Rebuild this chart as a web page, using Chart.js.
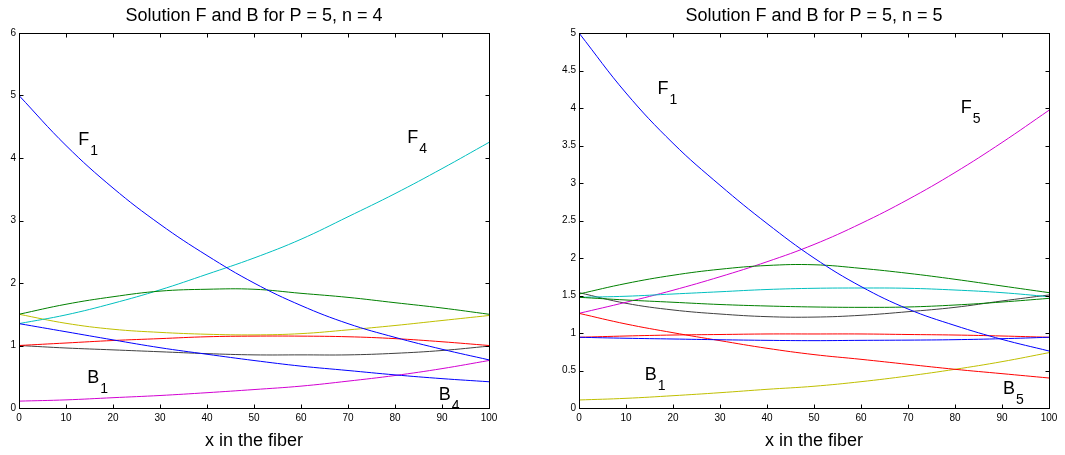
<!DOCTYPE html>
<html>
<head>
<meta charset="utf-8">
<title>Solution F and B</title>
<script src="https://cdn.jsdelivr.net/npm/chart.js@4.4.1/dist/chart.umd.min.js"></script>
<style>
  html, body { margin: 0; padding: 0; background: #fff; }
  body { width: 1065px; height: 455px; position: relative; overflow: hidden; }
  canvas { position: absolute; top: 0; }
  #left { left: 0; }
  #right { left: 532px; }
</style>
</head>
<body>
<canvas id="left" width="532" height="455"></canvas>
<canvas id="right" width="533" height="455"></canvas>
<script>
// x positions along the fiber (both plots)
var xs = [0, 10, 20, 30, 40, 50, 60, 70, 80, 90, 100];

// left plot, n = 4
var n4_F1      = [5.00, 4.20, 3.52, 2.94, 2.44, 2.00, 1.64, 1.35, 1.13, 0.94, 0.77];
var n4_F4      = [1.35, 1.49, 1.675, 1.89, 2.14, 2.40, 2.70, 3.06, 3.43, 3.83, 4.25];
var n4_green   = [1.50, 1.66, 1.78, 1.87, 1.90, 1.90, 1.835, 1.77, 1.685, 1.60, 1.50];
var n4_yellow  = [1.50, 1.355, 1.26, 1.21, 1.18, 1.17, 1.19, 1.25, 1.32, 1.40, 1.48];
var n4_red     = [1.00, 1.04, 1.08, 1.11, 1.14, 1.15, 1.15, 1.14, 1.11, 1.06, 1.00];
var n4_black   = [1.00, 0.96, 0.93, 0.90, 0.87, 0.85, 0.85, 0.85, 0.875, 0.92, 0.99];
var n4_blue2   = [1.35, 1.22, 1.09, 0.965, 0.86, 0.76, 0.67, 0.60, 0.53, 0.47, 0.42];
var n4_magenta = [0.11, 0.13, 0.165, 0.20, 0.245, 0.295, 0.35, 0.43, 0.52, 0.63, 0.76];

// right plot, n = 5
var n5_F1      = [5.00, 4.20, 3.53, 2.97, 2.46, 2.00, 1.62, 1.32, 1.10, 0.915, 0.76];
var n5_F5      = [1.262, 1.41, 1.57, 1.75, 1.95, 2.18, 2.46, 2.78, 3.14, 3.54, 3.97];
var n5_green1  = [1.52, 1.66, 1.77, 1.85, 1.90, 1.91, 1.862, 1.796, 1.716, 1.627, 1.538];
var n5_cyan    = [1.476, 1.49, 1.52, 1.55, 1.58, 1.596, 1.60, 1.596, 1.573, 1.538, 1.484];
var n5_green2  = [1.476, 1.44, 1.41, 1.38, 1.36, 1.347, 1.342, 1.347, 1.373, 1.413, 1.462];
var n5_black   = [1.538, 1.396, 1.307, 1.253, 1.218, 1.212, 1.236, 1.284, 1.342, 1.427, 1.507];
var n5_red1    = [0.943, 0.96, 0.973, 0.98, 0.987, 0.987, 0.987, 0.98, 0.973, 0.96, 0.943];
var n5_blue2   = [0.943, 0.93, 0.92, 0.91, 0.902, 0.898, 0.902, 0.905, 0.911, 0.924, 0.943];
var n5_red2    = [1.262, 1.12, 1.004, 0.898, 0.796, 0.712, 0.649, 0.582, 0.516, 0.458, 0.40];
var n5_yellow  = [0.107, 0.129, 0.164, 0.204, 0.249, 0.29, 0.351, 0.427, 0.516, 0.618, 0.738];

// curve labels: letter, subscript, x, y (data units)
var n4_labText = ['F', 'F', 'B', 'B'];
var n4_labSub  = ['1', '4', '1', '4'];
var n4_labX    = [12.6, 82.6, 14.5, 89.3];
var n4_labY    = [4.31, 4.34, 0.50, 0.24];

var n5_labText = ['F', 'F', 'B', 'B'];
var n5_labSub  = ['1', '5', '1', '5'];
var n5_labX    = [16.7, 81.2, 14.0, 90.2];
var n5_labY    = [4.27, 4.02, 0.46, 0.28];

var FONT = "'Liberation Sans', Arial, Helvetica, sans-serif";

var cBlue = 'rgb(0,0,255)', cGreen = 'rgb(0,128,0)', cRed = 'rgb(255,0,0)';
var cCyan = 'rgb(0,191,191)', cMag = 'rgb(210,0,210)', cYel = 'rgb(191,191,0)';
var cBlack = 'rgb(64,64,64)';

function series(ys, color) {
  return {
    data: xs.map(function(x, i) { return {x: x, y: ys[i]}; }),
    borderColor: color,
    borderWidth: 1,
    pointRadius: 0,
    fill: false,
    tension: 0.4
  };
}

// MATLAB-ish box with inward ticks, title on the plot area, curve labels
var boxPlugin = {
  id: 'boxPlugin',
  afterDraw: function(chart, args, opts) {
    var ctx = chart.ctx, a = chart.chartArea;
    var sx = chart.scales.x, sy = chart.scales.y;
    var L = Math.round(a.left) + 0.5, R = Math.round(a.right) + 0.5;
    var T = Math.round(a.top) + 0.5, B = Math.round(a.bottom) + 0.5;
    ctx.save();
    ctx.strokeStyle = '#000';
    ctx.lineWidth = 1;
    ctx.beginPath();
    sx.ticks.forEach(function(t) {
      var p = Math.round(sx.getPixelForValue(t.value)) + 0.5;
      ctx.moveTo(p, B); ctx.lineTo(p, B - 4);
      ctx.moveTo(p, T); ctx.lineTo(p, T + 4);
    });
    sy.ticks.forEach(function(t) {
      var p = Math.round(sy.getPixelForValue(t.value)) + 0.5;
      ctx.moveTo(L, p); ctx.lineTo(L + 4, p);
      ctx.moveTo(R, p); ctx.lineTo(R - 4, p);
    });
    ctx.stroke();
    ctx.strokeRect(L, T, R - L, B - T);

    ctx.fillStyle = '#000';
    ctx.textAlign = 'center';
    ctx.textBaseline = 'middle';
    ctx.font = '18px ' + FONT;
    ctx.fillText(opts.title, (a.left + a.right) / 2, 16);

    ctx.beginPath();
    ctx.rect(a.left, a.top, a.right - a.left, a.bottom - a.top);
    ctx.clip();
    ctx.textAlign = 'left';
    ctx.textBaseline = 'alphabetic';
    opts.text.forEach(function(s, i) {
      var px = sx.getPixelForValue(opts.lx[i]);
      var py = sy.getPixelForValue(opts.ly[i]) + 6.5;
      ctx.font = '18px ' + FONT;
      ctx.fillText(s, px, py);
      var w = ctx.measureText(s).width;
      ctx.font = '14px ' + FONT;
      ctx.fillText(opts.sub[i], px + w + 1, py + 10);
    });
    ctx.restore();
  }
};

function makeChart(id, datasets, yMax, yStep, yWidth, rightPad, title, lab) {
  return new Chart(document.getElementById(id), {
    type: 'line',
    data: { datasets: datasets },
    plugins: [boxPlugin],
    options: {
      responsive: false,
      animation: false,
      events: [],
      layout: { padding: { left: 0, right: rightPad, top: 33, bottom: 0 } },
      plugins: {
        legend: { display: false },
        tooltip: { enabled: false },
        title: { display: false },
        boxPlugin: { title: title, text: lab[0], sub: lab[1], lx: lab[2], ly: lab[3] }
      },
      scales: {
        x: {
          type: 'linear', min: 0, max: 100,
          grid: { display: false, drawTicks: false },
          border: { display: false },
          ticks: { stepSize: 10, color: '#000', padding: 4, maxRotation: 0,
                   font: { family: FONT, size: 10 } },
          title: { display: true, text: 'x in the fiber', color: '#000',
                   font: { family: FONT, size: 18 }, padding: { top: 0, bottom: 3 } },
          afterFit: function(s) { s.height = 47; }
        },
        y: {
          type: 'linear', min: 0, max: yMax,
          grid: { display: false, drawTicks: false },
          border: { display: false },
          ticks: { stepSize: yStep, color: '#000', padding: 3,
                   font: { family: FONT, size: 10 },
                   callback: function(v) { return String(+v.toFixed(2)); } },
          afterFit: function(s) { s.width = yWidth; }
        }
      }
    }
  });
}

makeChart('left', [
  series(n4_F1, cBlue),
  series(n4_blue2, cBlue),
  series(n4_green, cGreen),
  series(n4_red, cRed),
  series(n4_F4, cCyan),
  series(n4_magenta, cMag),
  series(n4_yellow, cYel),
  series(n4_black, cBlack)
], 6, 1, 19, 43, 'Solution F and B for P = 5, n = 4',
  [n4_labText, n4_labSub, n4_labX, n4_labY]);

makeChart('right', [
  series(n5_F1, cBlue),
  series(n5_blue2, cBlue),
  series(n5_green1, cGreen),
  series(n5_green2, cGreen),
  series(n5_red1, cRed),
  series(n5_red2, cRed),
  series(n5_cyan, cCyan),
  series(n5_F5, cMag),
  series(n5_yellow, cYel),
  series(n5_black, cBlack)
], 5, 0.5, 47, 16, 'Solution F and B for P = 5, n = 5',
  [n5_labText, n5_labSub, n5_labX, n5_labY]);
</script>
</body>
</html>
